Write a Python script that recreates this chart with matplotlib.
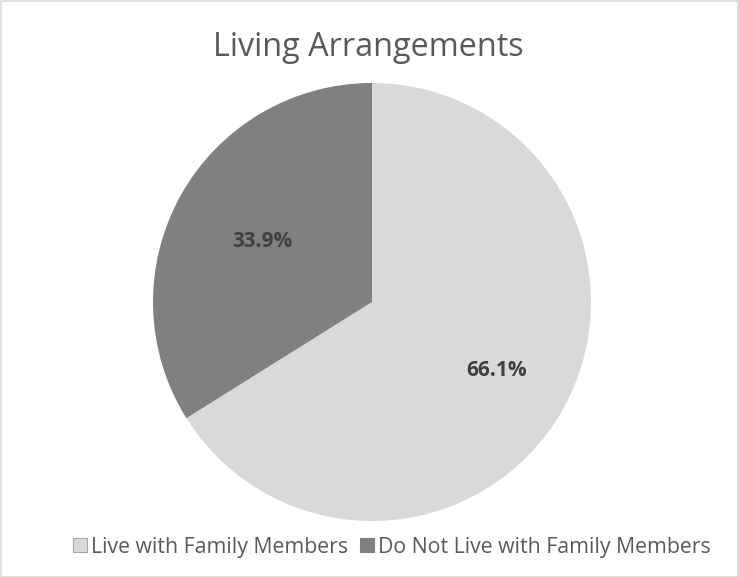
import matplotlib
matplotlib.use("Agg")
import matplotlib.pyplot as plt
import numpy as np
from matplotlib.patches import Rectangle, Patch

categories = ["Live with Family Members", "Do Not Live with Family Members"]
values = [66.1, 33.9]
colors = ["#D9D9D9", "#808080"]
title = "Living Arrangements"

plt.rcParams['font.family'] = ['Open Sans', 'DejaVu Sans']

W, H = 739, 577
fig = plt.figure(figsize=(W/100, H/100), dpi=100)
fig.patch.set_facecolor("white")
fig.patches.append(Rectangle((0.5/W, 0.5/H), 1 - 1.5/W, 1 - 1.5/H, transform=fig.transFigure,
                             fill=False, edgecolor="#D9D9D9", linewidth=1.2))

r = 219
cx, cy = 372, H - 302
ax = fig.add_axes([(cx - r)/W, (cy - r)/H, 2*r/W, 2*r/H])
wedges, _ = ax.pie(values, colors=colors, startangle=90, counterclock=False, radius=1,
                   wedgeprops=dict(linewidth=0))
ax.set_xlim(-1, 1)
ax.set_ylim(-1, 1)
ax.set_aspect("equal")
ax.axis("off")

dists = [0.65, 0.57]
for w, v, d in zip(wedges, values, dists):
    ang = np.deg2rad((w.theta1 + w.theta2) / 2)
    ax.text(d*np.cos(ang), d*np.sin(ang), f"{v:.1f}%", ha="center", va="center",
            fontsize=15, fontweight="bold", color="#404040")

fig.text(368/W, 1 - 47/H, title, ha="center", va="center", fontsize=23.3, color="#595959")

handles = [Patch(facecolor=c, edgecolor="#A6A6A6" if i == 0 else c, linewidth=0.8)
           for i, c in enumerate(colors)]
leg = fig.legend(handles, categories, loc="center", bbox_to_anchor=(392/W, 1 - 547/H),
                 ncol=2, frameon=False, fontsize=15.3, handlelength=0.65, handleheight=0.65,
                 handletextpad=0.2, columnspacing=0.55, labelcolor="#595959")

fig.savefig("out.png", dpi=100)
